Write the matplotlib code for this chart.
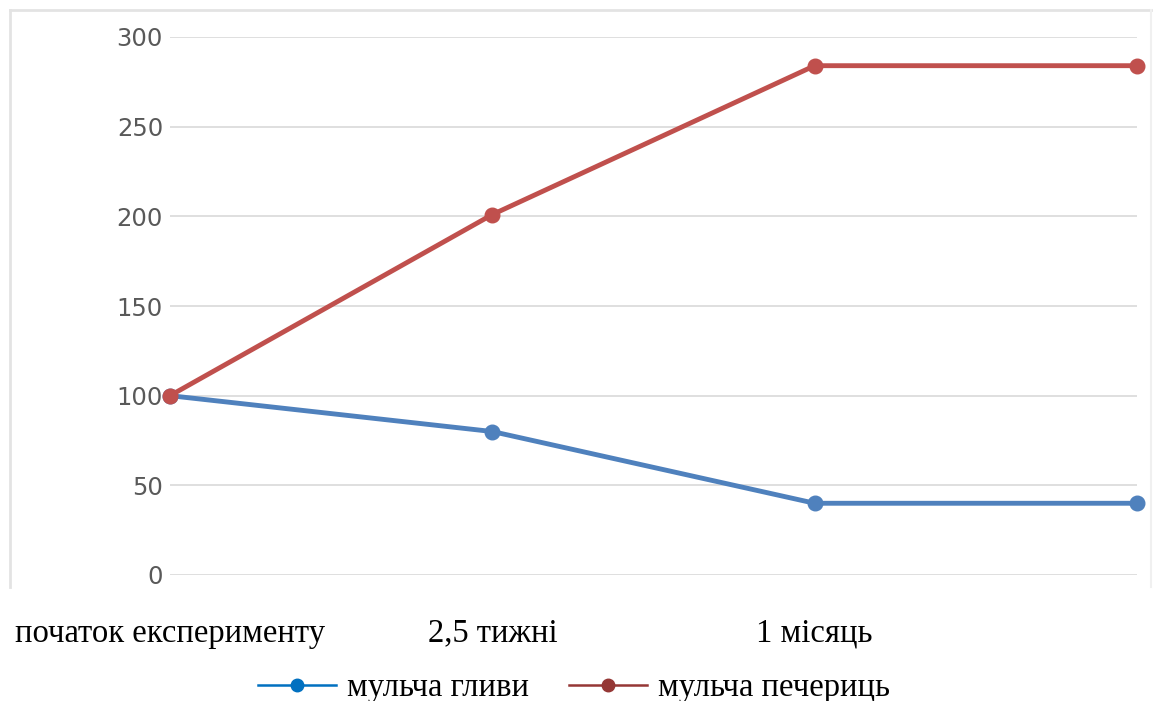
import matplotlib
matplotlib.use("Agg")
import matplotlib.pyplot as plt
from matplotlib.lines import Line2D

categories = ["початок експерименту", "2,5 тижні", "1 місяць", ""]
oyster = [100, 80, 40, 40]
champignon = [100, 201, 284, 284]
series_names = ["мульча гливи", "мульча печериць"]
yticks = [0, 50, 100, 150, 200, 250, 300]

W, H = 1158, 701
fig = plt.figure(figsize=(W / 100, H / 100), dpi=100)
fig.patch.set_facecolor("white")

ax = fig.add_axes([170 / W, 1 - 575 / H, (1137 - 170) / W, (575 - 37) / H])
x = list(range(len(categories)))

ax.plot(x, oyster, color="#4F81BD", lw=3.5, marker="o", ms=10.5, zorder=3, clip_on=False)
ax.plot(x, champignon, color="#C0504D", lw=3.5, marker="o", ms=10.5, zorder=4, clip_on=False)

ax.set_xlim(0, 3)
ax.set_ylim(0, 300)
ax.set_yticks(yticks)
ax.set_yticklabels([str(v) for v in yticks], fontsize=17.5, color="#595959", family="DejaVu Sans")
ax.tick_params(axis="y", length=0, pad=5)
ax.grid(axis="y", color="#D9D9D9", lw=1.2)
ax.set_axisbelow(True)
for s in ax.spines.values():
    s.set_visible(False)

ax.set_xticks(x)
ax.set_xticklabels(categories, fontsize=23.5, family="Liberation Serif", color="black")
ax.tick_params(axis="x", length=0, pad=31)

# frame of the embedded screenshot
fc = "#E3E3E3"
fig.add_artist(Line2D([10 / W, 10 / W], [1 - 10 / H, 1 - 587 / H], color=fc, lw=2))
fig.add_artist(Line2D([10 / W, 1151 / W], [1 - 10 / H, 1 - 10 / H], color=fc, lw=2))
fig.add_artist(Line2D([1151 / W, 1151 / W], [1 - 10 / H, 1 - 587 / H], color="#F0F0F0", lw=1.5))

handles = [
    Line2D([], [], color="#0070C0", lw=1.8, marker="o", ms=9),
    Line2D([], [], color="#953735", lw=1.8, marker="o", ms=9),
]
fig.legend(handles, series_names, loc="center", bbox_to_anchor=(574 / W, 1 - 688 / H),
           ncol=2, frameon=False, prop={"family": "Liberation Serif", "size": 23.5},
           handlelength=2.4, handletextpad=0.35, columnspacing=1.2)

fig.savefig("out.png", dpi=100, facecolor="white")
